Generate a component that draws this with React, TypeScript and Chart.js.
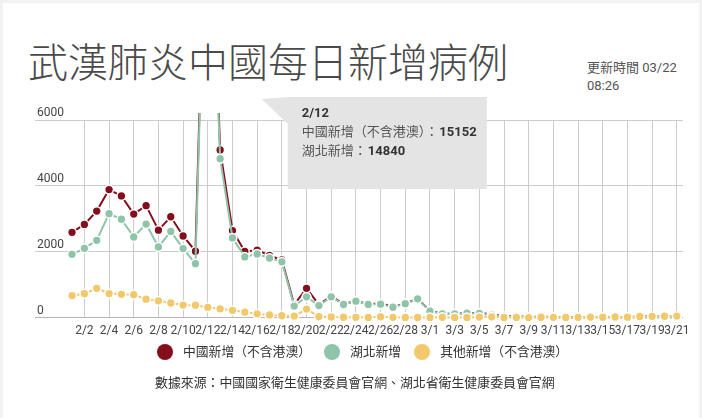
import { useEffect, useRef } from "react"
import { Chart, registerables } from "chart.js"

Chart.register(...registerables)

const categories = [
  "2/1", "2/2", "2/3", "2/4", "2/5", "2/6", "2/7", "2/8", "2/9", "2/10",
  "2/11", "2/12", "2/13", "2/14", "2/15", "2/16", "2/17", "2/18", "2/19", "2/20",
  "2/21", "2/22", "2/23", "2/24", "2/25", "2/26", "2/27", "2/28", "2/29", "3/1",
  "3/2", "3/3", "3/4", "3/5", "3/6", "3/7", "3/8", "3/9", "3/10", "3/11",
  "3/12", "3/13", "3/14", "3/15", "3/16", "3/17", "3/18", "3/19", "3/20", "3/21",
]

const chinaNew = [
  2590, 2829, 3235, 3887, 3694, 3143, 3399, 2656, 3062, 2478,
  2015, 15152, 5090, 2641, 2009, 2048, 1886, 1749, 394, 889,
  397, 648, 409, 508, 406, 433, 327, 427, 573, 202,
  125, 119, 139, 143, 99, 44, 40, 19, 24, 15,
  8, 11, 20, 16, 21, 13, 34, 39, 41, 46,
]

const hubeiNew = [
  1921, 2103, 2345, 3156, 2987, 2447, 2841, 2147, 2618, 2097,
  1638, 14840, 4823, 2420, 1843, 1933, 1807, 1693, 349, 631,
  366, 630, 398, 499, 401, 409, 318, 423, 570, 196,
  114, 115, 134, 126, 74, 41, 36, 17, 13, 8,
  5, 4, 4, 4, 1, 1, 0, 0, 0, 0,
]

const otherNew = [
  669, 726, 890, 731, 707, 696, 558, 509, 444, 381,
  377, 312, 267, 221, 166, 115, 79, 56, 45, 258,
  31, 18, 11, 9, 5, 24, 9, 4, 3, 6,
  11, 4, 5, 17, 25, 3, 4, 2, 11, 7,
  3, 7, 16, 12, 20, 12, 34, 39, 41, 46,
]

const seriesNames = ["中國新增（不含港澳）", "湖北新增", "其他新增（不含港澳）"]
const seriesColors = ["#850e1d", "#8fc4a9", "#f1c96c"]

const yTicks = [0, 2000, 4000, 6000]

// index of the day whose tooltip is pinned open in the reference
const tooltipIndex = 11

const FONT = 'Roboto, "Noto Sans CJK TC", sans-serif'

const pinnedTooltip = {
  id: "pinnedTooltip",
  afterDraw(chart: Chart) {
    const { ctx, scales } = chart
    const px = scales.x.getPixelForValue(tooltipIndex)
    const left = px + 80
    const top = 97
    const w = 199
    const h = 92
    ctx.save()
    ctx.fillStyle = "#e4e4e4"
    ctx.beginPath()
    ctx.moveTo(px + 54, 99)
    ctx.lineTo(left + 1, top)
    ctx.lineTo(left + 1, top + 28)
    ctx.closePath()
    ctx.fill()
    ctx.fillRect(left, top, w, h)

    ctx.textBaseline = "middle"
    ctx.fillStyle = "#333"
    ctx.font = `bold 13px ${FONT}`
    ctx.fillText(categories[tooltipIndex], left + 14, top + 17)

    const rows: [string, number][] = [
      [seriesNames[0], chinaNew[tooltipIndex]],
      [seriesNames[1], hubeiNew[tooltipIndex]],
    ]
    rows.forEach(([name, value], i) => {
      const y = top + 36 + i * 19
      ctx.font = `13px ${FONT}`
      ctx.fillStyle = "#555"
      const label = name + "："
      ctx.fillText(label, left + 14, y)
      const lw = ctx.measureText(label).width
      ctx.font = `bold 13px ${FONT}`
      ctx.fillStyle = "#333"
      ctx.fillText(String(value), left + 14 + lw + 1, y)
    })
    ctx.restore()
  },
}

function DailyCasesChart() {
  const chartRef = useRef<HTMLCanvasElement>(null)
  const chartInstance = useRef<Chart | null>(null)

  useEffect(() => {
    if (!chartRef.current) return
    if (chartInstance.current) chartInstance.current.destroy()

    const series = [chinaNew, hubeiNew, otherNew]

    chartInstance.current = new Chart(chartRef.current, {
      type: "line",
      data: {
        datasets: series.map((values, s) => ({
          label: seriesNames[s],
          data: values.map((y, i) => ({ x: i, y })),
          borderColor: seriesColors[s],
          backgroundColor: seriesColors[s],
          borderWidth: 2,
          pointRadius: 4.4,
          pointBorderWidth: 1.5,
          pointBorderColor: "#fff",
          pointBackgroundColor: seriesColors[s],
          pointHoverRadius: 4.4,
          tension: 0,
          order: 2 - s,
          clip: { left: 10, top: 7, right: 10, bottom: 10 },
        })),
      },
      options: {
        animation: false,
        responsive: true,
        maintainAspectRatio: false,
        events: [],
        layout: { padding: { top: 120, left: 31, right: 19, bottom: 8 } },
        plugins: {
          legend: { display: false },
          tooltip: { enabled: false },
        },
        scales: {
          x: {
            type: "linear",
            min: -3,
            max: 49.5,
            border: { display: false },
            grid: {
              drawTicks: false,
              color: (c: any) => {
                const v = c.tick?.value
                return Number.isInteger(v) && v % 2 === 1 ? "#cccccc" : "rgba(0,0,0,0)"
              },
            },
            afterBuildTicks: (axis: any) => {
              axis.ticks = categories.map((_, i) => ({ value: i }))
            },
            ticks: {
              autoSkip: false,
              maxRotation: 0,
              minRotation: 0,
              padding: 6,
              color: "#444",
              font: { family: FONT, size: 12 },
              callback: (value: any) => {
                const i = Number(value)
                return Number.isInteger(i) && i >= 0 && i % 2 === 1 ? categories[i] : ""
              },
            },
          },
          y: {
            min: yTicks[0],
            max: yTicks[yTicks.length - 1],
            border: { display: false },
            grid: {
              drawTicks: false,
              color: (c: any) => (c.tick?.value === 0 ? "#b5b5b5" : "#cccccc"),
            },
            afterBuildTicks: (axis: any) => {
              axis.ticks = yTicks.map((v) => ({ value: v }))
            },
            ticks: {
              mirror: true,
              padding: 2,
              labelOffset: -7,
              color: "#444",
              font: { family: FONT, size: 12 },
              callback: (value: any) => String(value),
            },
          },
        },
      },
      plugins: [pinnedTooltip],
    })

    return () => {
      if (chartInstance.current) {
        chartInstance.current.destroy()
        chartInstance.current = null
      }
    }
  }, [])

  return <canvas ref={chartRef} />
}

export default function App() {
  return (
    <div style={{ position: "relative", width: 702, height: 418, overflow: "hidden" }}>
      <style>{`body{margin:0;background:#f2f2f2;}`}</style>
      <div style={{ position: "absolute", left: 3, top: 3, width: 696, height: 415, background: "#fff" }} />
      <div
        style={{
          position: "absolute",
          left: 28,
          top: 38,
          fontFamily: '"Noto Sans CJK TC", sans-serif',
          fontSize: 40,
          fontWeight: 300,
          lineHeight: "44px",
          color: "#4a4a4a",
          whiteSpace: "nowrap",
        }}
      >
        武漢肺炎中國每日新增病例
      </div>
      <div
        style={{
          position: "absolute",
          left: 587,
          top: 59,
          fontFamily: FONT,
          fontSize: 13,
          lineHeight: "18px",
          color: "#555",
          whiteSpace: "nowrap",
        }}
      >
        更新時間 03/22
        <br />
        08:26
      </div>
      <div style={{ position: "absolute", left: 0, top: 0, width: 702, height: 352 }}>
        <DailyCasesChart />
      </div>
      <div
        style={{
          position: "absolute",
          left: 157,
          top: 343,
          display: "flex",
          alignItems: "center",
          fontFamily: FONT,
          fontSize: 12.8,
          lineHeight: "18px",
          color: "#333",
          whiteSpace: "nowrap",
        }}
      >
        {seriesNames.map((name, i) => (
          <div key={name} style={{ display: "flex", alignItems: "center", marginRight: 13 }}>
            <span
              style={{
                display: "inline-block",
                width: 16,
                height: 16,
                borderRadius: 8,
                background: seriesColors[i],
                marginRight: 10,
              }}
            />
            {name}
          </div>
        ))}
      </div>
      <div
        style={{
          position: "absolute",
          left: 155,
          top: 374,
          fontFamily: FONT,
          fontSize: 12.9,
          lineHeight: "18px",
          color: "#333",
          whiteSpace: "nowrap",
        }}
      >
        數據來源：中國國家衛生健康委員會官網、湖北省衛生健康委員會官網
      </div>
    </div>
  )
}
